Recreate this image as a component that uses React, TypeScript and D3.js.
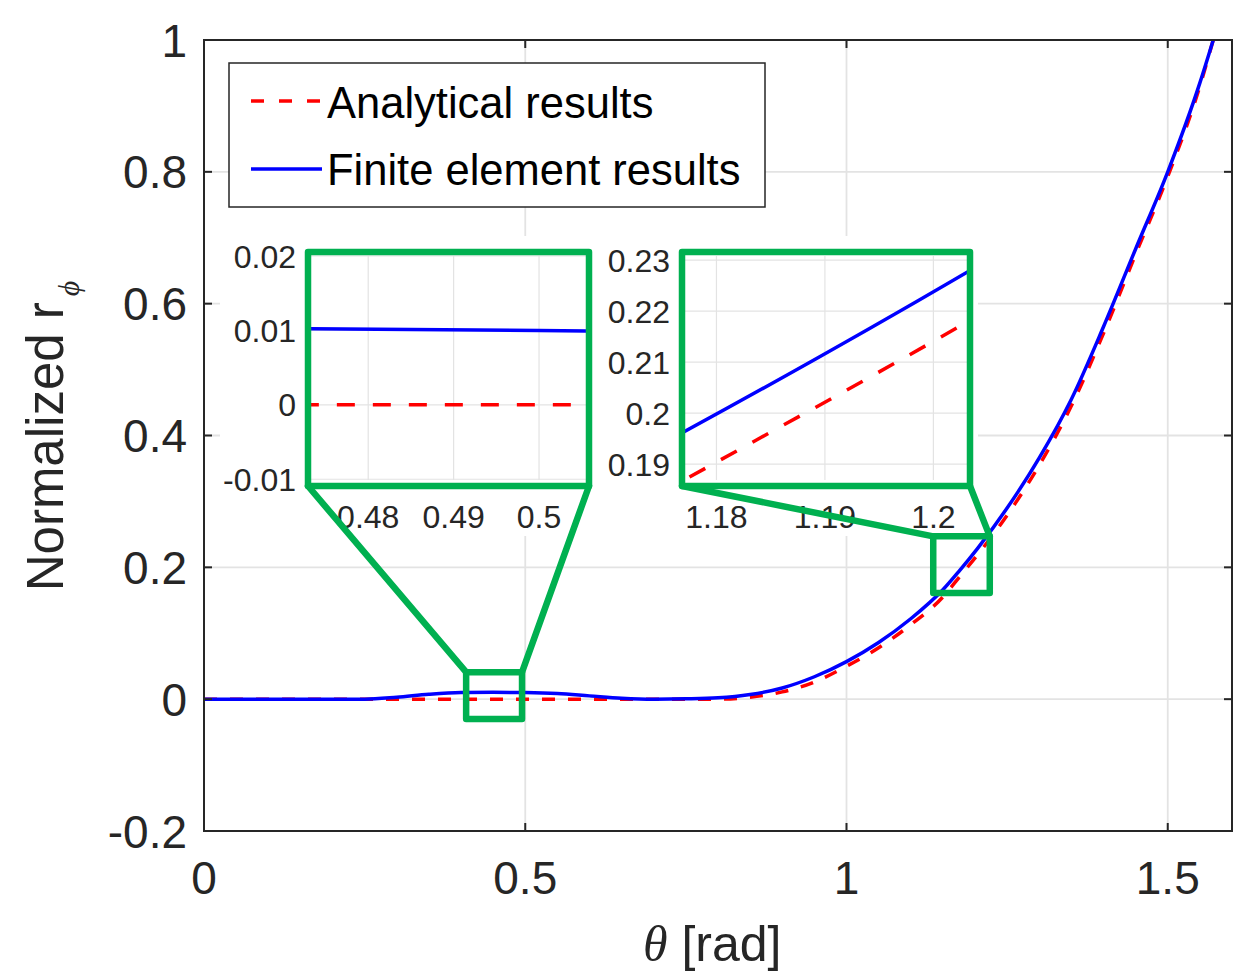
import React from 'react';
import * as d3 from 'd3';

// ---- data ----
const theta = [0, 0.1, 0.2, 0.25, 0.3, 0.35, 0.4, 0.45, 0.5, 0.55, 0.6, 0.65, 0.7, 0.75, 0.8,
  0.85, 0.9, 0.95, 1.0, 1.05, 1.1, 1.15, 1.175, 1.205, 1.25, 1.3, 1.35, 1.4, 1.45, 1.5, 1.55, 1.5708];
const femResults = [0, 0, 0, 0, 0.003, 0.0075, 0.0101, 0.0104, 0.0100, 0.0085, 0.005, 0.0015, 0, 0.0005, 0.002,
  0.007, 0.017, 0.034, 0.057, 0.086, 0.122, 0.166, 0.194, 0.230, 0.29, 0.366, 0.455, 0.565, 0.683, 0.80, 0.935, 1.0];
const analyticalResults = [0, 0, 0, 0, 0, 0, 0, 0, 0, 0, 0, 0, 0, 0, 0,
  0.003, 0.011, 0.026, 0.050, 0.078, 0.113, 0.155, 0.1845, 0.2202, 0.279, 0.355, 0.445, 0.555, 0.675, 0.793, 0.93, 1.0];

const xTickVals = [0, 0.5, 1, 1.5];
const xTickLabels = ['0', '0.5', '1', '1.5'];
const yTickVals = [-0.2, 0, 0.2, 0.4, 0.6, 0.8, 1];
const yTickLabels = ['-0.2', '0', '0.2', '0.4', '0.6', '0.8', '1'];

const inset1XTicks = [0.48, 0.49, 0.5];
const inset1XLabels = ['0.48', '0.49', '0.5'];
const inset1YTicks = [-0.01, 0, 0.01, 0.02];
const inset1YLabels = ['-0.01', '0', '0.01', '0.02'];
const inset1XDomain = [0.4733, 0.5055];
const inset1YDomain = [-0.0101, 0.02];

const inset2XTicks = [1.18, 1.19, 1.2];
const inset2XLabels = ['1.18', '1.19', '1.2'];
const inset2YTicks = [0.19, 0.2, 0.21, 0.22, 0.23];
const inset2YLabels = ['0.19', '0.2', '0.21', '0.22', '0.23'];
const inset2XDomain = [1.1771, 1.2031];
const inset2YDomain = [0.1869, 0.2308];

// zoom source regions in data coordinates
const zoomBox1 = { x0: 0.408, x1: 0.495, y0: -0.03, y1: 0.041 };
const zoomBox2 = { x0: 1.135, x1: 1.223, y0: 0.161, y1: 0.247 };

const legendLabels = ['Analytical results', 'Finite element results'];

// ---- styles ----
const FONT = '"Liberation Sans", Arial, Helvetica, sans-serif';
const TXT = '#262626';
const GREEN = '#00b050';
const RED = '#ff0000';
const BLUE = '#0000ff';
const GRID = '#e3e3e3';

const W = 1253, H = 975;
const PL = 204, PR = 1232, PT = 40, PB = 831;

const anaPts: [number, number][] = theta.map((t, i) => [t, analyticalResults[i]]);
const femPts: [number, number][] = theta.map((t, i) => [t, femResults[i]]);

function Inset(props: any) {
  const { id, frame, xDom, yDom, xt, xl, yt, yl, bg } = props;
  const xs = d3.scaleLinear().domain(xDom).range([frame.x + 3, frame.x + frame.w - 3]);
  const ys = d3.scaleLinear().domain(yDom).range([frame.y + frame.h - 6, frame.y + 4]);
  const line = d3.line<[number, number]>().x(d => xs(d[0])).y(d => ys(d[1])).curve(d3.curveMonotoneX);
  const [ax0, ax1] = xs.range();
  const [ay0, ay1] = ys.range();
  return (
    <g>
      <rect x={bg.x} y={bg.y} width={bg.w} height={bg.h} fill="#fff" />
      <clipPath id={id}>
        <rect x={ax0} y={ay1} width={ax1 - ax0} height={ay0 - ay1} />
      </clipPath>
      {xt.map((v: number) => (
        <line key={'gx' + v} x1={xs(v)} x2={xs(v)} y1={ay1} y2={ay0} stroke={GRID} strokeWidth={1.2} />
      ))}
      {yt.map((v: number) => (
        <line key={'gy' + v} x1={ax0} x2={ax1} y1={ys(v)} y2={ys(v)} stroke={GRID} strokeWidth={1.2} />
      ))}
      <g clipPath={`url(#${id})`}>
        <path d={line(anaPts) || ''} fill="none" stroke={RED} strokeWidth={3.5} strokeDasharray="18 18" />
        <path d={line(femPts) || ''} fill="none" stroke={BLUE} strokeWidth={3.5} />
      </g>
      {xt.map((v: number, i: number) => (
        <text key={'lx' + v} x={xs(v)} y={528} textAnchor="middle" fontSize={32} fontFamily={FONT} fill={TXT}>{xl[i]}</text>
      ))}
      {yt.map((v: number, i: number) => (
        <text key={'ly' + v} x={frame.x - 12} y={ys(v)} dy="0.36em" textAnchor="end" fontSize={32} fontFamily={FONT} fill={TXT}>{yl[i]}</text>
      ))}
    </g>
  );
}

export default function App() {
  const x = d3.scaleLinear().domain([0, 1.6]).range([PL, PR]);
  const y = d3.scaleLinear().domain([-0.2, 1]).range([PB, PT]);
  const line = d3.line<[number, number]>().x(d => x(d[0])).y(d => y(d[1])).curve(d3.curveMonotoneX);

  const frame1 = { x: 308, y: 252, w: 281, h: 234 };
  const frame2 = { x: 682, y: 252, w: 288, h: 234 };

  const b1 = { x0: x(zoomBox1.x0), x1: x(zoomBox1.x1), y0: y(zoomBox1.y1), y1: y(zoomBox1.y0) };
  const b2 = { x0: x(zoomBox2.x0), x1: x(zoomBox2.x1), y0: y(zoomBox2.y1), y1: y(zoomBox2.y0) };

  const tick = 8;
  return (
    <svg width={W} height={H} style={{ position: 'absolute', left: 0, top: 0, background: '#fff' }}>
      <rect x={0} y={0} width={W} height={H} fill="#fff" />
      <clipPath id="plotClip">
        <rect x={PL} y={PT - 2} width={PR - PL} height={PB - PT + 2} />
      </clipPath>
      {/* grid */}
      {xTickVals.map(v => (
        <line key={'gx' + v} x1={x(v)} x2={x(v)} y1={PT} y2={PB} stroke={GRID} strokeWidth={1.8} />
      ))}
      {yTickVals.map(v => (
        <line key={'gy' + v} x1={PL} x2={PR} y1={y(v)} y2={y(v)} stroke={GRID} strokeWidth={1.8} />
      ))}
      {/* curves */}
      <g clipPath="url(#plotClip)">
        <path d={line(anaPts) || ''} fill="none" stroke={RED} strokeWidth={3.5} strokeDasharray="13 13" />
        <path d={line(femPts) || ''} fill="none" stroke={BLUE} strokeWidth={3.5} />
      </g>
      {/* axes box and ticks */}
      <rect x={PL} y={PT} width={PR - PL} height={PB - PT} fill="none" stroke={TXT} strokeWidth={2} />
      {xTickVals.map(v => (
        <g key={'tx' + v}>
          <line x1={x(v)} x2={x(v)} y1={PB} y2={PB - tick} stroke={TXT} strokeWidth={2} />
          <line x1={x(v)} x2={x(v)} y1={PT} y2={PT + tick} stroke={TXT} strokeWidth={2} />
        </g>
      ))}
      {yTickVals.map(v => (
        <g key={'ty' + v}>
          <line x1={PL} x2={PL + tick} y1={y(v)} y2={y(v)} stroke={TXT} strokeWidth={2} />
          <line x1={PR} x2={PR - tick} y1={y(v)} y2={y(v)} stroke={TXT} strokeWidth={2} />
        </g>
      ))}
      {xTickVals.map((v, i) => (
        <text key={'xl' + v} x={x(v)} y={894} textAnchor="middle" fontSize={46} fontFamily={FONT} fill={TXT}>{xTickLabels[i]}</text>
      ))}
      {yTickVals.map((v, i) => (
        <text key={'yl' + v} x={187} y={y(v)} dy="0.36em" textAnchor="end" fontSize={46} fontFamily={FONT} fill={TXT}>{yTickLabels[i]}</text>
      ))}
      {/* axis labels */}
      <text x={643} y={961} fontSize={50} fontFamily={FONT} fill={TXT}>
        <tspan fontFamily='"Liberation Serif", "Times New Roman", serif' fontStyle="italic">θ</tspan>
        <tspan> [rad]</tspan>
      </text>
      <text transform="translate(63,436) rotate(-90)" textAnchor="middle" fontSize={51} fontFamily={FONT} fill={TXT}>
        Normalized r
        <tspan fontFamily='"Liberation Serif", "Times New Roman", serif' fontStyle="italic" fontSize={30} dx={6} dy={16}>ϕ</tspan>
      </text>
      {/* legend */}
      <rect x={229} y={63} width={536} height={144} fill="#fff" stroke={TXT} strokeWidth={1.5} />
      <line x1={251} x2={322} y1={101} y2={101} stroke={RED} strokeWidth={3.5} strokeDasharray="13 15" />
      <text x={327} y={118} fontSize={43.5} fontFamily={FONT} fill="#000">{legendLabels[0]}</text>
      <line x1={251} x2={322} y1={169} y2={169} stroke={BLUE} strokeWidth={3.5} />
      <text x={327} y={185} fontSize={43.5} fontFamily={FONT} fill="#000">{legendLabels[1]}</text>
      {/* insets */}
      <Inset id="in1" frame={frame1} xDom={inset1XDomain} yDom={inset1YDomain}
        xt={inset1XTicks} xl={inset1XLabels} yt={inset1YTicks} yl={inset1YLabels}
        bg={{ x: 220, y: 236, w: 378, h: 300 }} />
      <Inset id="in2" frame={frame2} xDom={inset2XDomain} yDom={inset2YDomain}
        xt={inset2XTicks} xl={inset2XLabels} yt={inset2YTicks} yl={inset2YLabels}
        bg={{ x: 598, y: 236, w: 380, h: 300 }} />
      {/* green frames and connectors */}
      <g fill="none" stroke={GREEN} strokeWidth={6.5} strokeLinejoin="round" strokeLinecap="round">
        <rect x={frame1.x} y={frame1.y} width={frame1.w} height={frame1.h} />
        <rect x={frame2.x} y={frame2.y} width={frame2.w} height={frame2.h} />
        <rect x={b1.x0} y={b1.y0} width={b1.x1 - b1.x0} height={b1.y1 - b1.y0} />
        <rect x={b2.x0} y={b2.y0} width={b2.x1 - b2.x0} height={b2.y1 - b2.y0} />
        <line x1={frame1.x} y1={frame1.y + frame1.h} x2={b1.x0} y2={b1.y0} />
        <line x1={frame1.x + frame1.w} y1={frame1.y + frame1.h} x2={b1.x1} y2={b1.y0} />
        <line x1={frame2.x} y1={frame2.y + frame2.h} x2={b2.x0} y2={b2.y0} />
        <line x1={frame2.x + frame2.w} y1={frame2.y + frame2.h} x2={b2.x1} y2={b2.y0} />
      </g>
    </svg>
  );
}
